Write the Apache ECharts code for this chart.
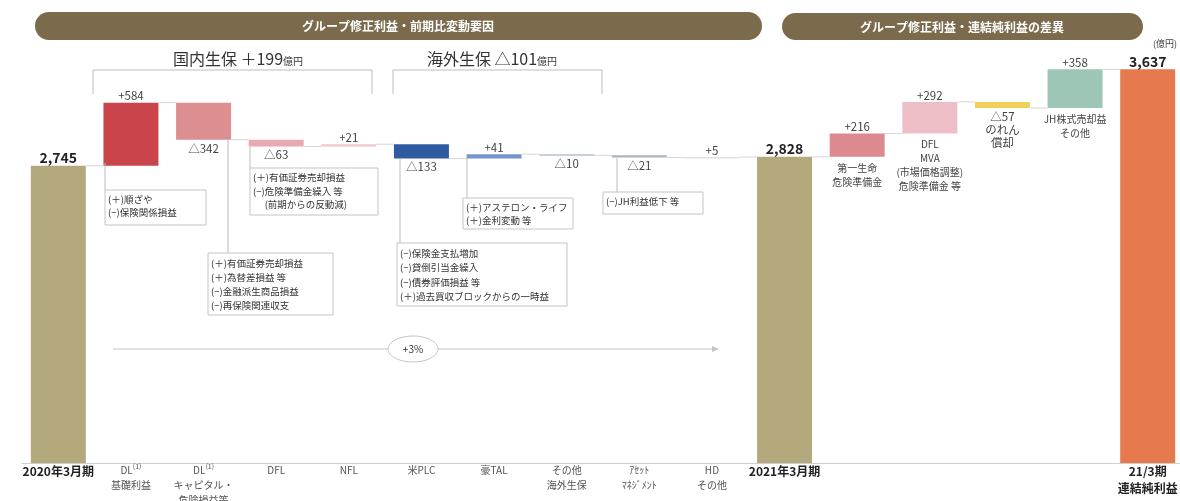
<!DOCTYPE html>
<html><head><meta charset="utf-8">
<script src="https://cdn.jsdelivr.net/npm/echarts@6/dist/echarts.min.js"></script>
<style>html,body{margin:0;padding:0;background:#fff}#c{width:1180px;height:501px}</style>
</head><body><div id="c"></div>
<script>
const categories = ['2020年3月期','DL基礎利益','DLキャピタル・危険損益等','DFL','NFL','米PLC','豪TAL','その他海外生保','アセットマネジメント','HDその他','2021年3月期','第一生命危険準備金','DFL MVA','のれん償却','JH株式売却益その他','21/3期連結純利益'];
const axisLabels = ['{b|2020年3月期}','DL{s|(1)}\n基礎利益','DL{s|(1)}\nキャピタル・\n危険損益等','DFL','NFL','米PLC','豪TAL','その他\n海外生保','ｱｾｯﾄ\nﾏﾈｼﾞﾒﾝﾄ','HD\nその他','{b|2021年3月期}','','','','','{b|21/3期}\n{b|連結純利益}'];
const values = [2745, 584, -342, -63, 21, -133, 41, -10, -21, 5, 2828, 216, 292, -57, 358, 3637];
const isTotal = [true,false,false,false,false,false,false,false,false,false,true,false,false,false,false,true];
const valueLabels = ['2,745','+584','△342','△63','+21','△133','+41','△10','△21','+5','2,828','+216','+292','△57\nのれん\n償却','+358','3,637'];
const subLabels = ['','','','','','','','','','','','第一生命\n危険準備金','DFL\nMVA\n(市場価格調整)\n危険準備金 等','','JH株式売却益\nその他',''];
const barColors = ['#b3a97c','#c9454b','#dc8f91','#e7aab0','#efc6ca','#2f5b9f','#7595cc','#b7c1d0','#aab5c4','#dde2ea','#b3a97c','#dc8a8f','#eebec6','#eed05a','#9dc6b6','#e7794f'];

const FONT = '"Noto Sans CJK JP", "Noto Sans", sans-serif';
const data = [];
let level = 0;
for (let i = 0; i < values.length; i++) {
  let low, high, end;
  if (isTotal[i]) { low = 0; high = values[i]; end = values[i]; }
  else { const s = level; end = level + values[i]; low = Math.min(s, end); high = Math.max(s, end); }
  level = end;
  data.push([i, low, high, end]);
}

function renderItem(params, api) {
  const i = api.value(0), low = api.value(1), high = api.value(2), end = api.value(3);
  const pTop = api.coord([i, high]);
  const pBot = api.coord([i, low]);
  const bw = api.size([1, 0])[0] * 0.757;
  const children = [];
  children.push({type: 'rect', shape: {x: pTop[0] - bw / 2, y: pTop[1], width: bw, height: Math.max(pBot[1] - pTop[1], 1.5)}, style: {fill: barColors[i]}});
  if (i < values.length - 1) {
    const q = api.coord([i + 1, end]);
    children.push({type: 'line', shape: {x1: pTop[0] + bw / 2, y1: q[1], x2: q[0] - bw / 2, y2: q[1]}, style: {stroke: '#d6d6d6', lineWidth: 1}});
  }
  const neg = !isTotal[i] && values[i] < 0;
  if (isTotal[i]) {
    children.push({type: 'text', style: {text: valueLabels[i], x: pTop[0], y: pTop[1] - 1, align: 'center', verticalAlign: 'bottom', font: 'bold 14px ' + FONT, fill: '#222'}});
  } else if (neg) {
    children.push({type: 'text', style: {text: valueLabels[i], x: pTop[0], y: pBot[1] + 2, align: 'center', verticalAlign: 'top', font: '11.5px ' + FONT, fill: '#444', lineHeight: 13}});
  } else {
    children.push({type: 'text', style: {text: valueLabels[i], x: pTop[0], y: pTop[1] - 1, align: 'center', verticalAlign: 'bottom', font: '11.5px ' + FONT, fill: '#444'}});
  }
  if (subLabels[i]) {
    children.push({type: 'text', style: {text: subLabels[i], x: pTop[0], y: pBot[1] + 4, align: 'center', verticalAlign: 'top', font: '10px ' + FONT, fill: '#444', lineHeight: 14}});
  }
  return {type: 'group', children};
}

function box(x, y, w, h, lines, lx, ly, lh) {
  const els = [];
  els.push({type: 'line', shape: {x1: lx, y1: ly, x2: lx, y2: y}, style: {stroke: '#bbb', lineWidth: 1}, z: 10});
  els.push({type: 'rect', shape: {x, y, width: w, height: h}, style: {fill: '#fff', stroke: '#c4c4c4', lineWidth: 1}, z: 10});
  els.push({type: 'text', x: x + 3, y: y + 3, style: {text: lines, font: '9.5px ' + FONT, fill: '#333', lineHeight: lh}, z: 11});
  return els;
}

const graphics = [
  {type: 'rect', shape: {x: 35, y: 12, width: 727, height: 28, r: 14}, style: {fill: '#7b6a4c'}},
  {type: 'text', style: {text: 'グループ修正利益・前期比変動要因', x: 398, y: 26, align: 'center', verticalAlign: 'middle', font: 'bold 12px ' + FONT, fill: '#fff'}},
  {type: 'rect', shape: {x: 782, y: 13, width: 361, height: 27, r: 13.5}, style: {fill: '#7b6a4c'}},
  {type: 'text', style: {text: 'グループ修正利益・連結純利益の差異', x: 962, y: 27, align: 'center', verticalAlign: 'middle', font: 'bold 12px ' + FONT, fill: '#fff'}},
  {type: 'text', style: {text: '(億円)', x: 1177, y: 44, align: 'right', verticalAlign: 'middle', font: '9px ' + FONT, fill: '#444'}},
  {type: 'text', style: {text: '{a|国内生保 ＋199}{u|億円}', x: 238, y: 59, align: 'center', verticalAlign: 'middle', rich: {a: {font: '16px ' + FONT, fill: '#333'}, u: {font: '10px ' + FONT, fill: '#333', padding: [4, 0, 0, 0]}}}},
  {type: 'text', style: {text: '{a|海外生保 △101}{u|億円}', x: 492, y: 59, align: 'center', verticalAlign: 'middle', rich: {a: {font: '16px ' + FONT, fill: '#333'}, u: {font: '10px ' + FONT, fill: '#333', padding: [4, 0, 0, 0]}}}},
  {type: 'polyline', shape: {points: [[93, 94], [93, 70], [372, 70], [372, 94]]}, style: {stroke: '#bdbdbd', lineWidth: 1, fill: null}},
  {type: 'polyline', shape: {points: [[393, 94], [393, 70], [602, 70], [602, 94]]}, style: {stroke: '#bdbdbd', lineWidth: 1, fill: null}},
  ...box(105, 190, 101, 35, '(＋)順ざや\n(−)保険関係損益', 105, 163, 13),
  ...box(250, 168, 128, 47, '(＋)有価証券売却損益\n(−)危険準備金繰入 等\n　 (前期からの反動減)', 250, 147, 13.5),
  ...box(208, 253, 125, 62, '(＋)有価証券売却損益\n(＋)為替差損益 等\n(−)金融派生商品損益\n(−)再保険関連収支', 228, 139, 14),
  ...box(397, 243, 170, 63, '(−)保険金支払増加\n(−)貸倒引当金繰入\n(−)債券評価損益 等\n(＋)過去買収ブロックからの一時益', 400, 158, 14.5),
  ...box(463, 198, 110, 31, '(＋)アステロン・ライフ\n(＋)金利変動 等', 467, 158, 13),
  ...box(603, 192, 100, 22, '(−)JH利益低下 等', 617, 158, 13),
  {type: 'line', shape: {x1: 113, y1: 349, x2: 712, y2: 349}, style: {stroke: '#c4c4c4', lineWidth: 1.2}},
  {type: 'polygon', shape: {points: [[712, 346], [719, 349], [712, 352]]}, style: {fill: '#c4c4c4'}},
  {type: 'ellipse', shape: {cx: 413, cy: 349, rx: 25, ry: 13}, style: {fill: '#fff', stroke: '#c4c4c4', lineWidth: 1}},
  {type: 'text', style: {text: '+3%', x: 413, y: 349, align: 'center', verticalAlign: 'middle', font: '10px ' + FONT, fill: '#333'}}
];

const chart = echarts.init(document.getElementById('c'));
chart.setOption({
  animation: false,
  grid: {left: 22, right: -4, top: 30, bottom: 38, containLabel: false, outerBoundsMode: 'none'},
  xAxis: {
    type: 'category', data: categories,
    axisLine: {lineStyle: {color: '#cfcfcf', width: 1.2}},
    axisTick: {show: false},
    axisLabel: {
      interval: 0, margin: 0, fontFamily: FONT, fontSize: 10, color: '#555', lineHeight: 15,
      formatter: (v, idx) => axisLabels[idx],
      rich: {
        b: {fontFamily: FONT, fontSize: 12, fontWeight: 'bold', color: '#222', lineHeight: 17},
        s: {fontFamily: FONT, fontSize: 7, color: '#555', verticalAlign: 'top', lineHeight: 15}
      }
    }
  },
  yAxis: {type: 'value', min: 0, max: 4000, show: false, splitLine: {show: false}},
  series: [{type: 'custom', renderItem, data, encode: {x: 0, y: [1, 2]}, clip: false}],
  graphic: graphics
});
</script></body></html>
